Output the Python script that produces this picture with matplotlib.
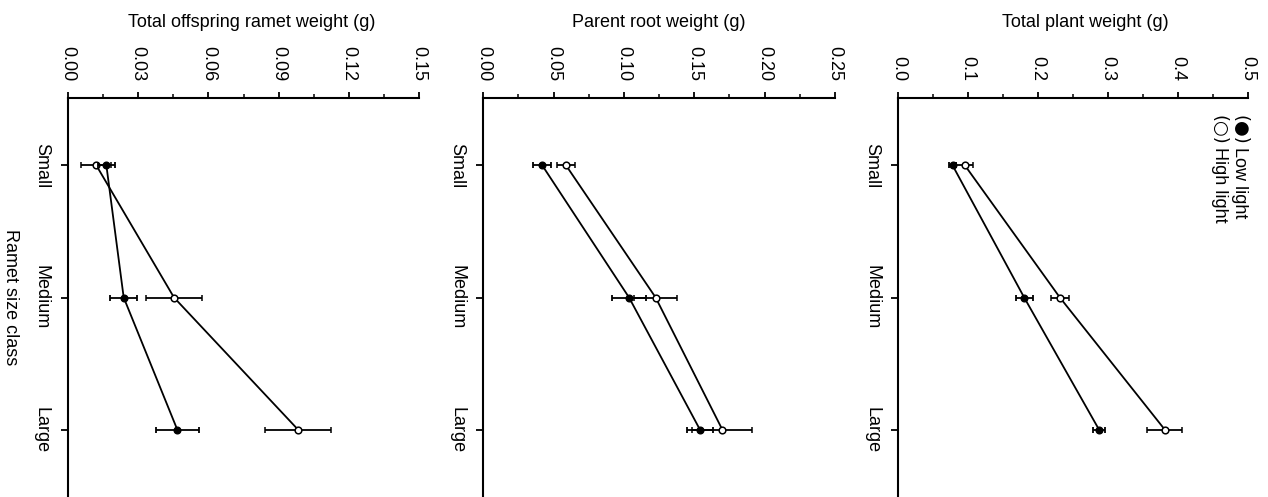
import numpy as np
import matplotlib.pyplot as plt

plt.rcParams['font.family'] = ['Liberation Sans', 'DejaVu Sans']

# ramet size classes (drawn top to bottom)
sizes = ["Small", "Medium", "Large"]

# total offspring ramet weight (g)
offspring_low = [0.0164, 0.0238, 0.0467]
offspring_low_se = [0.0036, 0.0059, 0.0091]
offspring_high = [0.0121, 0.0453, 0.0983]
offspring_high_se = [0.0064, 0.0119, 0.0141]

# parent root weight (g)
root_low = [0.0419, 0.1036, 0.1540]
root_low_se = [0.0065, 0.0118, 0.0095]
root_high = [0.0588, 0.1225, 0.1699]
root_high_se = [0.0065, 0.0154, 0.0213]

# total plant weight (g)
plant_low = [0.0776, 0.1800, 0.2870]
plant_low_se = [0.0050, 0.0120, 0.0090]
plant_high = [0.0952, 0.2310, 0.3810]
plant_high_se = [0.0120, 0.0130, 0.0250]

treatments = ["Low light", "High light"]
symbols = ["(\u25cf)", "(\u25cb)"]

panels = [
    ("Total offspring ramet weight (g)", offspring_low, offspring_low_se,
     offspring_high, offspring_high_se, 0.15, 0.03, "%.2f"),
    ("Parent root weight (g)", root_low, root_low_se,
     root_high, root_high_se, 0.25, 0.05, "%.2f"),
    ("Total plant weight (g)", plant_low, plant_low_se,
     plant_high, plant_high_se, 0.5, 0.1, "%.1f"),
]

W, H = 1268, 497
fig = plt.figure(figsize=(W / 100, H / 100), dpi=100)
lefts = [68, 483.3, 898.3]
rights = [419, 835, 1248]
label_x = [0.524, 0.5, 0.534]
top_px = 98

pos = np.arange(len(sizes))
for i, (label, lo, lo_se, hi, hi_se, vmax, step, fmt) in enumerate(panels):
    ax = fig.add_axes([lefts[i] / W, 0, (rights[i] - lefts[i]) / W, 1 - top_px / H])

    ax.errorbar(hi, pos, xerr=hi_se, fmt="o-", color="black", mfc="white",
                mec="black", ms=4.8, mew=1.1, lw=1.3, elinewidth=1.3,
                capsize=2.5, capthick=1.3, zorder=3)
    ax.errorbar(lo, pos, xerr=lo_se, fmt="o-", color="black", mfc="black",
                ms=4.8, lw=1.3, elinewidth=1.3, capsize=2.5, capthick=1.3,
                zorder=4)

    ax.set_xlim(0, vmax)
    ax.set_ylim(len(sizes) - 0.5 + 0.01, -0.51)
    ticks = np.arange(0, vmax + step / 2, step)
    ax.set_xticks(ticks, [fmt % t for t in ticks], rotation=-90)
    ax.set_xticks(np.arange(step / 2, vmax, step), minor=True)
    ax.xaxis.tick_top()
    ax.xaxis.set_label_position("top")
    ax.set_xlabel(label, fontsize=13, va="center")
    ax.xaxis.set_label_coords(label_x[i], 1.19)
    ax.set_yticks(pos, sizes, rotation=-90, va="center")

    ax.tick_params(axis="x", which="major", direction="out", length=4,
                   width=1.3, pad=8, labelsize=13)
    ax.tick_params(axis="x", which="minor", direction="out", length=3, width=1.1)
    ax.tick_params(axis="y", direction="out", length=5, width=1.3, pad=8,
                   labelsize=13)

    for s in ("right", "bottom"):
        ax.spines[s].set_visible(False)
    for s in ("top", "left"):
        ax.spines[s].set_linewidth(1.5)

    if i == 0:
        ax.set_ylabel("Ramet size class", rotation=-90, fontsize=13, va="center")
        ax.yaxis.set_label_coords(-0.165, 0.5)
    if i == 2:
        # rotated key: symbol in DejaVu (larger circles), text in Liberation
        for j, (sym, name) in enumerate(zip(symbols, treatments)):
            ax.annotate(sym, xy=(1.0, 0.957), xycoords="axes fraction",
                        xytext=(-j * 14.4, 0), textcoords="offset points",
                        rotation=-90, ha="right", va="top", fontsize=13,
                        family="DejaVu Sans")
            ax.annotate(name, xy=(1.0, 0.957), xycoords="axes fraction",
                        xytext=(-j * 14.4, -23), textcoords="offset points",
                        rotation=-90, ha="right", va="top", fontsize=13)

fig.savefig("out.png", dpi=100)
